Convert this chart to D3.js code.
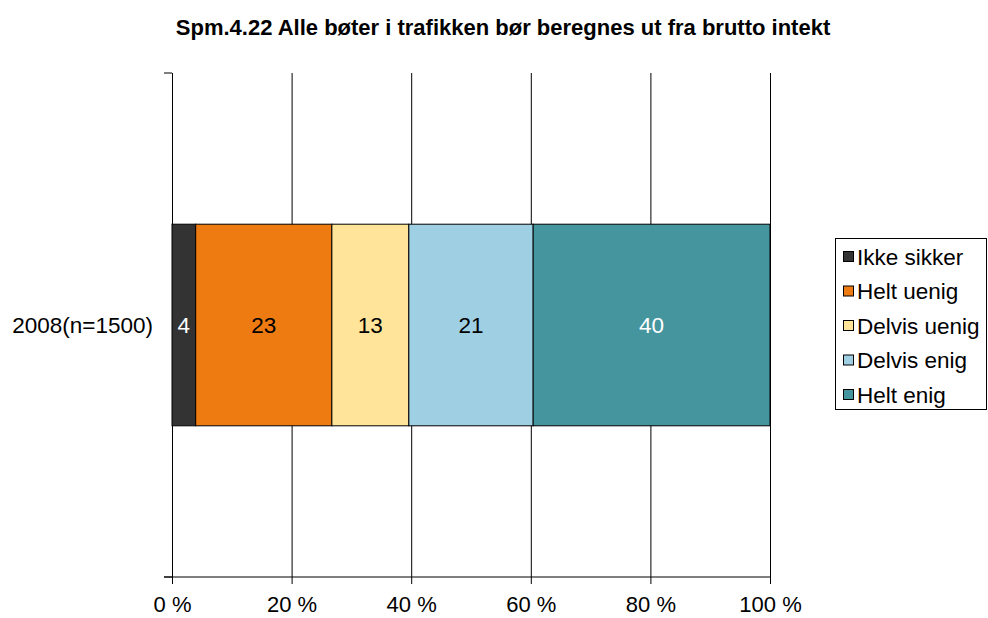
<!DOCTYPE html>
<html>
<head>
<meta charset="utf-8">
<script src="https://cdn.jsdelivr.net/npm/d3@7"></script>
<style>
  html, body { margin: 0; padding: 0; background: #fff; }
  svg { display: block; font-family: "Liberation Sans", Arial, sans-serif; }
</style>
</head>
<body>
<svg id="chart" width="988" height="618"></svg>
<script>
// Survey answers, one stacked row (values in percent, drawn as share of their total)
const categories = ["2008(n=1500)"];
const seriesNames = ["Ikke sikker", "Helt uenig", "Delvis uenig", "Delvis enig", "Helt enig"];
const seriesValues = [[4], [23], [13], [21], [40]];
const seriesColors = ["#333333", "#ee7b11", "#ffe499", "#9ecfe3", "#45959e"];
const labelColors = ["#ffffff", "#000000", "#000000", "#000000", "#ffffff"];
const tickValues = [0, 0.2, 0.4, 0.6, 0.8, 1];
const title = "Spm.4.22 Alle bøter i trafikken bør beregnes ut fra brutto intekt";

const FS = 22.5;
const svg = d3.select("#chart");
const plot = { left: 172, right: 770, top: 73, bottom: 577 };

const x = d3.scaleLinear().domain([0, 1]).range([plot.left, plot.right]);
const y = d3.scaleBand().domain(categories).range([plot.top, plot.bottom])
  .paddingInner(0.6).paddingOuter(0.3);

// Title
svg.append("text")
  .attr("x", 503).attr("y", 35)
  .attr("text-anchor", "middle")
  .attr("font-size", 22).attr("font-weight", "bold")
  .text(title);

// Vertical gridlines with outside ticks
const xAxis = d3.axisBottom(x).tickValues(tickValues)
  .tickSize(-(plot.bottom - plot.top))
  .tickFormat(d => Math.round(d * 100) + " %");
const gx = svg.append("g").attr("transform", `translate(0,${plot.bottom})`).call(xAxis);
gx.select(".domain").remove();
gx.selectAll(".tick line").attr("stroke", "#000").attr("stroke-width", 1).attr("y2", 7)
  .attr("y1", -(plot.bottom - plot.top));
gx.selectAll(".tick text").attr("font-size", 22).attr("fill", "#000")
  .attr("font-family", "Liberation Sans, Arial, sans-serif")
  .attr("dy", null).attr("y", 35);

// Bottom axis line
svg.append("line")
  .attr("x1", plot.left - 8).attr("x2", plot.right)
  .attr("y1", plot.bottom).attr("y2", plot.bottom)
  .attr("stroke", "#000");

// Category axis ticks (top and bottom boundaries)
[plot.top, plot.bottom].forEach(yy => {
  svg.append("line").attr("x1", plot.left - 8).attr("x2", plot.left)
    .attr("y1", yy).attr("y2", yy).attr("stroke", "#000");
});

// Category label
svg.selectAll(".cat").data(categories).enter().append("text")
  .attr("x", plot.left - 19)
  .attr("y", d => y(d) + y.bandwidth() / 2)
  .attr("dy", "0.35em")
  .attr("text-anchor", "end")
  .attr("font-size", FS)
  .text(d => d);

// Stacked segments normalised to 100 %
categories.forEach((cat, ci) => {
  const total = d3.sum(seriesValues, s => s[ci]);
  let acc = 0;
  seriesValues.forEach((s, si) => {
    const x0 = acc / total, x1 = (acc + s[ci]) / total;
    acc += s[ci];
    svg.append("rect")
      .attr("x", x(x0)).attr("y", y(cat))
      .attr("width", x(x1) - x(x0)).attr("height", y.bandwidth())
      .attr("fill", seriesColors[si])
      .attr("stroke", "#000").attr("stroke-width", 1);
    svg.append("text")
      .attr("x", (x(x0) + x(x1)) / 2)
      .attr("y", y(cat) + y.bandwidth() / 2)
      .attr("dy", "0.35em")
      .attr("text-anchor", "middle")
      .attr("font-size", FS)
      .attr("fill", labelColors[si])
      .text(s[ci]);
  });
});

// Legend
const legend = svg.append("g");
legend.append("rect")
  .attr("x", 835.5).attr("y", 238.5).attr("width", 151).attr("height", 171)
  .attr("fill", "#fff").attr("stroke", "#000");
seriesNames.forEach((name, i) => {
  const cy = 257 + i * 34.5;
  legend.append("rect")
    .attr("x", 843.5).attr("y", cy - 5.5).attr("width", 10).attr("height", 10)
    .attr("fill", seriesColors[i]).attr("stroke", "#000");
  legend.append("text")
    .attr("x", 857).attr("y", cy).attr("dy", "0.35em")
    .attr("font-size", FS).text(name);
});
</script>
</body>
</html>
